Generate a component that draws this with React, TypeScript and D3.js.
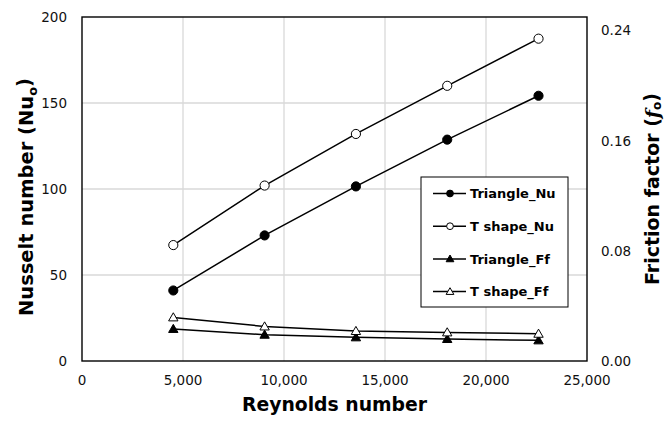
import * as d3 from 'd3';

const reynolds = [4520, 9040, 13560, 18080, 22600];
const triangleNu = [41, 73, 101.5, 128.7, 154.2];
const tShapeNu = [67.4, 102, 132, 160, 187.4];
const triangleFf = [0.0233, 0.0191, 0.0172, 0.016, 0.015];
const tShapeFf = [0.0317, 0.0251, 0.0218, 0.0208, 0.0198];

const xTicks = [0, 5000, 10000, 15000, 20000, 25000];
const nuTicks = [0, 50, 100, 150, 200];
const ffTicks = [0, 0.08, 0.16, 0.24];

const legendItems = [
    { name: 'Triangle_Nu', shape: 'circle', filled: true },
    { name: 'T shape_Nu', shape: 'circle', filled: false },
    { name: 'Triangle_Ff', shape: 'triangle', filled: true },
    { name: 'T shape_Ff', shape: 'triangle', filled: false }
];

const W = 668;
const H = 421;
const [ml, mr, mt, mb] = [82, 81, 17, 60];
const font = '"DejaVu Sans", Verdana, sans-serif';

export default function App() {
    const x = d3.scaleLinear().domain([0, 25000]).range([ml, W - mr]);
    const yNu = d3.scaleLinear().domain([0, 200]).range([H - mb, mt]);
    // right axis runs a bit past its last label, like the original
    const yFf = d3.scaleLinear().domain([0, 0.25]).range([H - mb, mt]);

    const fmt = d3.format(',');
    const circle = d3.symbol(d3.symbolCircle, 66)();
    const circleSmall = d3.symbol(d3.symbolCircle, 36)();
    const tri = d3.symbol(d3.symbolTriangle, 38)();
    const triSmall = d3.symbol(d3.symbolTriangle, 26)();

    const series = [
        { values: triangleNu, y: yNu, shape: 'circle', filled: true },
        { values: tShapeNu, y: yNu, shape: 'circle', filled: false },
        { values: triangleFf, y: yFf, shape: 'triangle', filled: true },
        { values: tShapeFf, y: yFf, shape: 'triangle', filled: false }
    ];

    const lineFor = (vals: number[], y: d3.ScaleLinear<number, number>) =>
        d3.line<number>()
            .x((_, i) => x(reynolds[i]))
            .y((d) => y(d))(vals) as string;

    const legX = 421;
    const legY = 177;
    const legW = 147;
    const rowH = 32.7;

    return (
        <svg width={W} height={H} style={{ position: 'absolute', left: 0, top: 0, background: '#fff' }} fontFamily={font}>
            {/* grid */}
            {xTicks.slice(1, -1).map((t) => (
                <line key={'gx' + t} x1={x(t)} x2={x(t)} y1={mt} y2={H - mb} stroke="#d9d9d9" strokeWidth={1.3} />
            ))}
            {nuTicks.slice(1, -1).map((t) => (
                <line key={'gy' + t} x1={ml} x2={W - mr} y1={yNu(t)} y2={yNu(t)} stroke="#d9d9d9" strokeWidth={1.3} />
            ))}
            <rect x={ml} y={mt} width={W - ml - mr} height={H - mt - mb} fill="none" stroke="#000" strokeWidth={1.4} />

            {/* tick labels */}
            {xTicks.map((t) => (
                <text key={'tx' + t} x={x(t)} y={385} textAnchor="middle" fontSize={13.5} fill="#111">
                    {fmt(t)}
                </text>
            ))}
            {nuTicks.map((t) => (
                <text key={'ty' + t} x={67} y={yNu(t)} dy="0.35em" textAnchor="end" fontSize={13.5} fill="#111">
                    {t}
                </text>
            ))}
            {ffTicks.map((t) => (
                <text key={'tf' + t} x={601} y={yFf(t)} dy="0.35em" textAnchor="start" fontSize={13.5} fill="#111">
                    {t.toFixed(2)}
                </text>
            ))}

            {/* titles */}
            <text x={(ml + W - mr) / 2} y={411} textAnchor="middle" fontSize={18.8} fontWeight="bold">
                Reynolds number
            </text>
            <text transform="translate(33,197) rotate(-90)" textAnchor="middle" fontSize={19.5} fontWeight="bold">
                Nusselt number (Nu<tspan fontSize={13} dy="0.3em">o</tspan>
                <tspan dy="-0.3em">)</tspan>
            </text>
            <text transform="translate(659,189) rotate(-90)" textAnchor="middle" fontSize={19} fontWeight="bold">
                Friction factor (<tspan fontStyle="italic" fontFamily='"DejaVu Serif", serif'>f</tspan>
                <tspan fontSize={12} dy="0.2em">o</tspan>
                <tspan dy="-0.2em">)</tspan>
            </text>

            {/* series */}
            {series.map((s, si) => (
                <g key={'s' + si}>
                    <path d={lineFor(s.values, s.y)} fill="none" stroke="#000" strokeWidth={1.5} />
                    {s.values.map((v, i) => (
                        <path
                            key={i}
                            d={s.shape === 'circle' ? circle : tri}
                            transform={`translate(${x(reynolds[i])},${s.y(v) + (s.shape === 'circle' ? 0 : 0.8)})`}
                            fill={s.filled ? '#000' : '#fff'}
                            stroke="#000"
                            strokeWidth={1}
                        />
                    ))}
                </g>
            ))}

            {/* legend */}
            <rect x={legX} y={legY} width={legW} height={130} fill="#fff" stroke="#000" strokeWidth={1} />
            {legendItems.map((it, i) => {
                const cy = legY + 16.5 + i * rowH;
                return (
                    <g key={it.name}>
                        <line x1={433} x2={466} y1={cy} y2={cy} stroke="#000" strokeWidth={1.5} />
                        <path
                            d={it.shape === 'circle' ? circleSmall : triSmall}
                            transform={`translate(450,${cy + (it.shape === 'circle' ? 0 : 0.6)})`}
                            fill={it.filled ? '#000' : '#fff'}
                            stroke="#000"
                            strokeWidth={1}
                        />
                        <text x={470} y={cy} dy="0.36em" fontSize={13} fontWeight="bold">
                            {it.name}
                        </text>
                    </g>
                );
            })}
        </svg>
    );
}
